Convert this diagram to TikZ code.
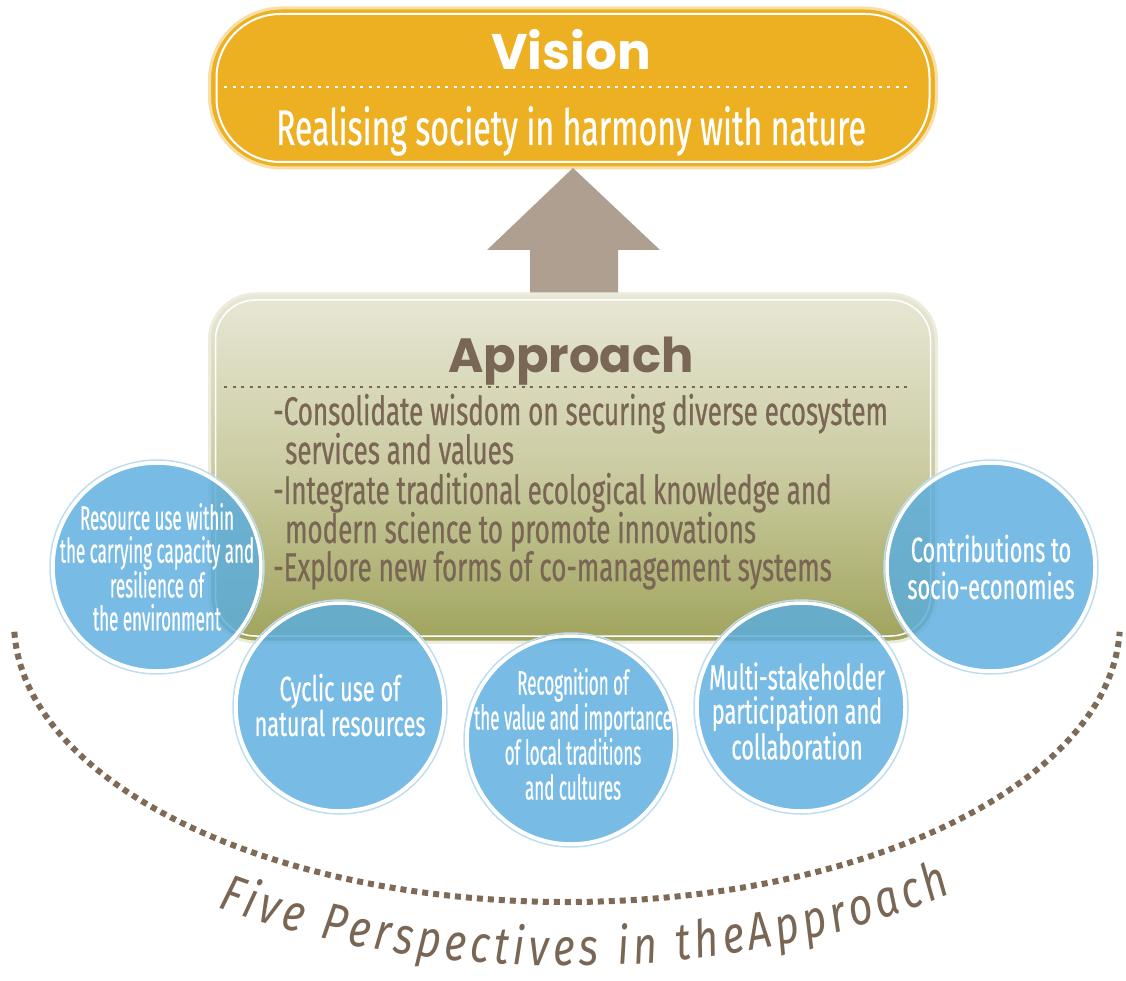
\documentclass[tikz,border=0pt]{standalone}
\usepackage{fontspec}
\setmainfont{Fira Sans}
\newfontfamily\titlefont{Poppins}
\newfontfamily\cndA[FakeStretch=0.62,FakeBold=0.5]{Fira Sans}
\newfontfamily\cndV[FakeStretch=0.64,FakeBold=0.5]{Fira Sans}
\newfontfamily\cndP[FakeStretch=0.65,FakeBold=0.6]{Fira Sans}
\newfontfamily\cndB[FakeStretch=0.5,FakeBold=0.5]{Fira Sans}
\newfontfamily\curvefont[FakeStretch=0.8]{Fira Sans}
\usetikzlibrary{calc,decorations.text}
\definecolor{visionO}{HTML}{EDB023}
\definecolor{visionHalo}{HTML}{F8DFA8}
\definecolor{arrowc}{HTML}{AE9F90}
\definecolor{apTop}{HTML}{E8E7D6}
\definecolor{apMid}{HTML}{CBCCA2}
\definecolor{apBot}{HTML}{A0A45C}
\definecolor{apBorder}{HTML}{ECEBDC}
\definecolor{txtbrown}{HTML}{7A6655}
\definecolor{cblue}{HTML}{5AADE0}
\definecolor{cring}{HTML}{BFDDF2}
\definecolor{dotbrown}{HTML}{7E6A56}
\tikzset{
  visionbox/.style={rectangle, rounded corners=72pt, fill=visionO, draw=visionHalo, line width=3pt,
    minimum width=727pt, minimum height=160pt, inner sep=0pt},
  innerline/.style={rectangle, draw=white, line width=2pt, inner sep=0pt},
  apbox/.style={rectangle, rounded corners=46pt, top color=apTop, bottom color=apBot, middle color=apMid,
    draw=apBorder, line width=3pt, minimum width=727pt, minimum height=348pt, inner sep=0pt},
  titletext/.style={font=\titlefont\bfseries\fontsize{50}{56}\selectfont, inner sep=0pt},
  bullet/.style={anchor=base west, inner sep=0pt, text=txtbrown, font=\cndP\fontsize{40}{40}\selectfont},
  circ/.style={circle, fill=cblue, fill opacity=0.82, draw=white, draw opacity=1, line width=3.5pt,
    minimum size=#1, inner sep=0pt},
  cring/.style={circle, draw=cring, line width=1.5pt, minimum size=#1, inner sep=0pt},
  ctext/.style={align=center, text=white, inner sep=0pt},
  whitedots/.style={draw=white, line width=2.5pt, dash pattern=on 3pt off 5.5pt},
  browndots/.style={draw=txtbrown, line width=2.5pt, dash pattern=on 3pt off 5.5pt},
  bigdots/.style={draw=dotbrown, line width=6pt, dash pattern=on 6pt off 5pt},
}
\begin{document}
\begin{tikzpicture}[x=1pt,y=-1pt]
\useasboundingbox (0,0) rectangle (1126,981);
% ---------- Vision ----------
\node[visionbox] (vision) at (573,88) {};
\node[innerline, rounded corners=64pt, minimum width=713pt, minimum height=148pt] (visionin) at (vision.center) {};
\node[titletext, text=white, anchor=base] (vtitle) at (571,70) {Vision};
\coordinate (vd1) at (224,87);
\coordinate (vd2) at (912,87);
\draw[whitedots] (vd1) -- (vd2);
\node[anchor=base, inner sep=0pt, text=white, font=\cndV\fontsize{50}{54}\selectfont] (vsub) at (571,145) {Realising society in harmony with nature};
% ---------- Arrow ----------
\coordinate (a1) at (530,300);
\coordinate (a2) at (530,250);
\coordinate (a3) at (487,250);
\coordinate (a4) at (573,168);
\coordinate (a5) at (660,250);
\coordinate (a6) at (618,250);
\coordinate (a7) at (618,300);
\fill[arrowc] (a1) -- (a2) -- (a3) -- (a4) -- (a5) -- (a6) -- (a7) -- cycle;
% ---------- Approach ----------
\node[apbox] (approach) at (573,468) {};
\node[innerline, rounded corners=40pt, line width=1.5pt, minimum width=715pt, minimum height=336pt] (approachin) at (approach.center) {};
\node[titletext, text=txtbrown, anchor=base, font=\titlefont\bfseries\fontsize{48}{54}\selectfont] (atitle) at (571,372) {Approach};
\coordinate (ad1) at (224,387);
\coordinate (ad2) at (912,387);
\draw[browndots] (ad1) -- (ad2);
\node[bullet] (b1) at (273,425) {-Consolidate wisdom on securing diverse ecosystem};
\node[bullet] (b2) at (285,464) {services and values};
\node[bullet] (b3) at (273,504) {-Integrate traditional ecological knowledge and};
\node[bullet] (b4) at (285,543) {modern science to promote innovations};
\node[bullet] (b5) at (273,581) {-Explore new forms of co-management systems};
% ---------- Dotted arc ----------
\coordinate (ec) at (567,622);
\draw[bigdots] ($(ec)+(178:553 and 280)$) arc[start angle=178, end angle=2, x radius=553, y radius=280];
% ---------- Circles ----------
\foreach \n/\p in {c1/{(157,567)}, c2/{(340,707)}, c3/{(571,740)}, c4/{(801,707)}, c5/{(991,567)}}{
  \node[cring=214pt] at \p {};
  \node[circ=208pt] (\n) at \p {};
}
\node[ctext, font=\cndB\fontsize{34}{33}\selectfont] (t1) at (c1.center) {Resource use within\\the carrying capacity and\\resilience of\\the environment};
\node[ctext, font=\cndA\fontsize{35}{35}\selectfont] (t2) at ($(c2.center)+(0,-2)$) {Cyclic use of\\natural resources};
\node[ctext, font=\cndB\fontsize{34}{35}\selectfont] (t3) at ($(c3.center)+(2,-6)$) {Recognition of\\the value and importance\\of local traditions\\and cultures};
\node[ctext, font=\cndA\fontsize{35}{34}\selectfont] (t4) at ($(c4.center)+(-4,4)$) {Multi-stakeholder\\participation and\\collaboration};
\node[ctext, font=\cndA\fontsize{35}{37}\selectfont] (t5) at (c5.center) {Contributions to\\socio-economies};
% ---------- Curved caption ----------
\path[decorate, decoration={text along path, text align={fit to path},
  text={|\curvefont\itshape\fontsize{52}{58}\selectfont\color{txtbrown}|Five Perspectives in theApproach}}]
  ($(ec)+(124:625 and 344)$) arc[start angle=124, end angle=52, x radius=625, y radius=344];
\end{tikzpicture}
\end{document}
